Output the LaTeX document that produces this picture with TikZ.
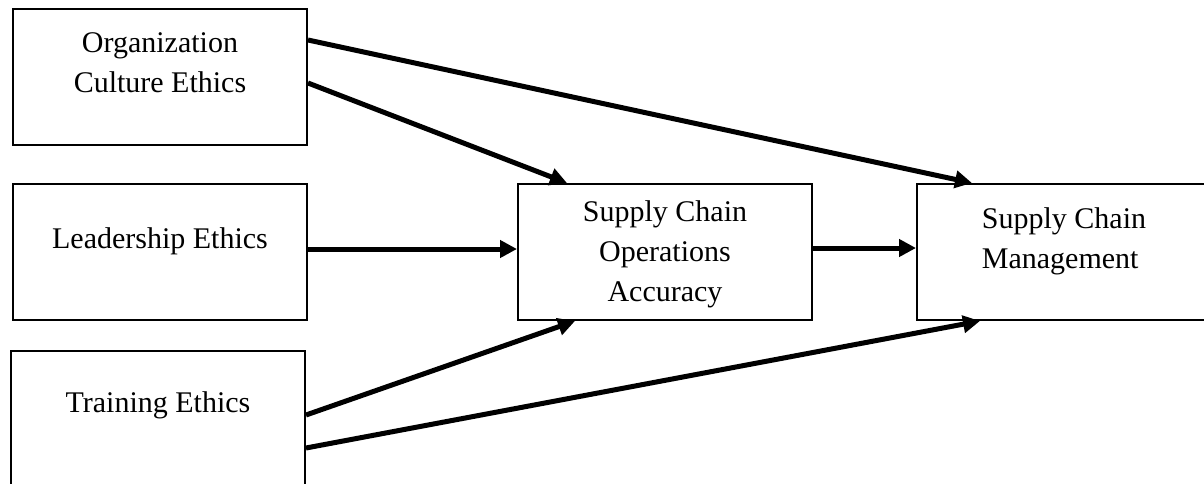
\documentclass[tikz,border=0pt]{standalone}
\usepackage{fontspec}
\setmainfont{Liberation Serif}
\usetikzlibrary{arrows.meta}

\begin{document}
\begin{tikzpicture}[x=0.5pt,y=-0.5pt]
        \tikzstyle{block}=[draw, line width=1pt, minimum width=147pt, inner sep=0pt, align=center, font=\fontsize{15}{20}\selectfont]
        \tikzstyle{link}=[line width=2.5pt, -{Triangle[length=8.5pt,width=8.5pt]}]

        \useasboundingbox (0,0) rectangle (1204,483);

        \node[block, text height=41.5pt, text depth=26.5pt] (org) at (160,77) {Organization\\Culture Ethics};
        \node[block, text height=32pt, text depth=36pt] (lead) at (160,252) {Leadership Ethics};
        \node[block, text height=30.5pt, text depth=37.5pt] (train) at (158,419) {Training Ethics};
        \node[block, text height=58.5pt, text depth=9.5pt] (acc) at (665,252) {Supply Chain\\Operations\\Accuracy};
        \node[block, align=left, text height=42pt, text depth=26pt] (scm) at (1064,252) {Supply Chain\\Management};

        \draw[link] ([yshift=-3pt]org.east) -- ([xshift=-49pt]acc.north);
        \draw[link] ([yshift=18.5pt]org.east) -- ([xshift=-46pt]scm.north);
        \draw[link] ([yshift=1.5pt]lead.east) -- ([yshift=1.5pt]acc.west);
        \draw[link] ([yshift=2pt]acc.east) -- ([yshift=2pt]scm.west);
        \draw[link] ([yshift=2pt]train.east) -- ([xshift=-45pt]acc.south);
        \draw[link] ([yshift=-14.5pt]train.east) -- ([xshift=-42pt]scm.south);
    \end{tikzpicture}
\end{document}
